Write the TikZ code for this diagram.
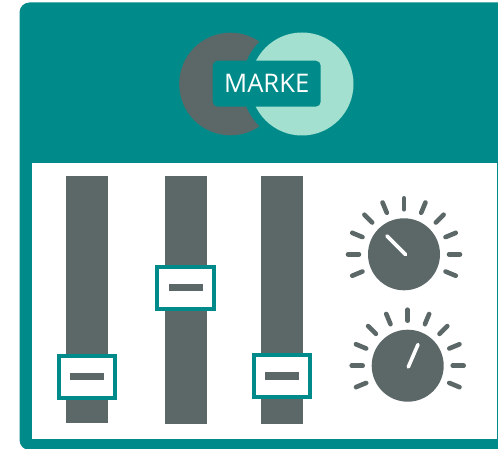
\documentclass[tikz,border=0pt]{standalone}
\usepackage{fontspec}
\setmainfont{Open Sans}
\definecolor{tealmain}{HTML}{008B8A}
\definecolor{graymain}{HTML}{5C6767}
\definecolor{lightmint}{HTML}{A4E0CF}
\tikzset{
  px/.style={x=1pt,y=-1pt},
  track/.style={fill=graymain,draw=none},
  handlebox/.style={draw=tealmain,line width=4pt,fill=white},
  dashmark/.style={fill=graymain,draw=none},
  knobface/.style={fill=graymain,draw=none},
  tickmark/.style={draw=graymain,line width=4.6pt,line cap=round},
  pointer/.style={draw=white,line width=3.6pt,line cap=round},
}
\begin{document}
\begin{tikzpicture}[px]
\useasboundingbox (0,0) rectangle (498,449);
\clip (0,0) rectangle (498,449);
\fill[white] (0,0) rectangle (498,449);
% panel
\fill[tealmain,rounded corners=10pt] (19.5,2.5) rectangle (520,450);
\fill[white] (32,163) rectangle (496.5,439);
% logo
\fill[graymain] (230.5,84) circle[radius=51.3];
\fill[tealmain] (302,84) circle[radius=60];
\fill[lightmint] (302,84) circle[radius=51.5];
\node[fill=tealmain,rounded corners=5pt,minimum width=108pt,minimum height=46pt,inner sep=0pt,text=white,font=\fontsize{25.6}{25.6}\selectfont] (brand) at (266.7,83.7) {MARKE};
% sliders
\fill[track] (66,176) rectangle (108,423);
\fill[track] (164.5,176) rectangle (206.8,424);
\fill[track] (260.7,176) rectangle (303.3,423.5);
\draw[handlebox] (59,355.5) rectangle (115.2,398);
\fill[dashmark] (70,372.7) rectangle (104.3,380);
\draw[handlebox] (157.4,266.7) rectangle (214,308.7);
\fill[dashmark] (168.7,283.8) rectangle (202.7,291.2);
\draw[handlebox] (253.7,354.7) rectangle (310.3,397);
\fill[dashmark] (264.7,372) rectangle (299,379.5);
% knob 1
\fill[knobface] (404,254.3) circle[radius=36];
\foreach \a in {-22.5,0,22.5,45,67.5,90,112.5,135,157.5,180,202.5}
  \draw[tickmark] ([shift={(\a:45 and -45)}]404,254.3) -- ([shift={(\a:56 and -56)}]404,254.3);
\draw[pointer] (387,236) -- (405.5,254.5);
% knob 2
\fill[knobface] (407.7,365.7) circle[radius=36];
\foreach \a in {-22.5,0,22.5,45,67.5,90,112.5,135,157.5,180,202.5}
  \draw[tickmark] ([shift={(\a:45 and -45)}]407.7,365.7) -- ([shift={(\a:56 and -56)}]407.7,365.7);
\draw[pointer] (408.3,367) -- (418,344.5);
\end{tikzpicture}
\end{document}
